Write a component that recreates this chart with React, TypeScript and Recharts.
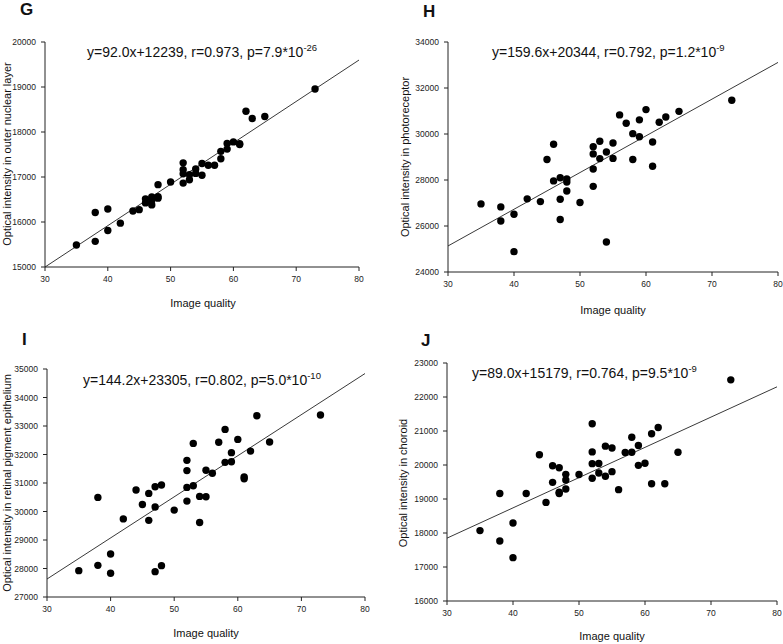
import React from "react";
import { ScatterChart, Scatter, XAxis, YAxis, ReferenceLine } from "recharts";

// ---------- data ----------
const xTicks = [30, 40, 50, 60, 70, 80];

const gX = [35, 38, 38, 40, 40, 42, 44, 45, 46, 46, 47, 47, 47, 48, 48, 48, 50, 52, 52, 52, 52, 53, 53, 54, 54, 55, 55, 56, 57, 58, 58, 59, 59, 60, 61, 61, 62, 63, 65, 73];
const gY = [15490, 16210, 15570, 16290, 15810, 15975, 16245, 16275, 16515, 16425, 16555, 16480, 16380, 16830, 16560, 16530, 16890, 17315, 17160, 17070, 16865, 17050, 16940, 17180, 17080, 17300, 17040, 17260, 17260, 17570, 17405, 17745, 17620, 17780, 17740, 17720, 18460, 18300, 18345, 18955];
const gTicks = [15000, 16000, 17000, 18000, 19000, 20000];
const gFit = { slope: 92.0, intercept: 12239 };

const hX = [35, 38, 38, 40, 40, 42, 44, 45, 46, 46, 47, 47, 47, 48, 48, 48, 50, 52, 52, 52, 52, 53, 53, 54, 54, 55, 55, 56, 57, 58, 58, 59, 59, 60, 61, 61, 62, 63, 65, 73];
const hY = [26960, 26830, 26220, 26510, 24885, 27180, 27060, 28890, 29555, 27960, 28095, 27165, 26280, 28045, 27915, 27525, 27020, 29450, 29135, 28480, 27725, 29685, 28930, 29215, 25305, 29610, 28940, 30830, 30465, 30015, 28890, 30615, 29880, 31060, 29655, 28595, 30510, 30740, 30985, 31465];
const hTicks = [24000, 26000, 28000, 30000, 32000, 34000];
const hFit = { slope: 159.6, intercept: 20344 };

const iX = [35, 38, 38, 40, 40, 42, 44, 45, 46, 46, 47, 47, 47, 48, 48, 50, 52, 52, 52, 52, 53, 53, 54, 54, 55, 55, 56, 57, 58, 58, 59, 59, 60, 61, 61, 62, 63, 65, 73];
const iY = [27925, 30495, 28110, 28510, 27835, 29740, 30755, 30245, 30635, 29690, 30870, 30160, 27890, 30930, 28100, 30050, 31795, 31435, 30845, 30365, 32390, 30905, 30530, 29615, 31445, 30520, 31340, 32430, 32880, 31725, 32065, 31745, 32530, 31210, 31150, 32120, 33360, 32440, 33385];
const iTicks = [27000, 28000, 29000, 30000, 31000, 32000, 33000, 34000, 35000];
const iFit = { slope: 144.2, intercept: 23305 };

const jX = [35, 38, 38, 40, 40, 42, 44, 45, 46, 46, 47, 47, 47, 48, 48, 48, 50, 52, 52, 52, 52, 53, 53, 54, 54, 55, 55, 56, 57, 58, 58, 59, 59, 60, 61, 61, 62, 63, 65, 73];
const jY = [18070, 19160, 17765, 18295, 17275, 19160, 20300, 18900, 19980, 19490, 19920, 19200, 19160, 19725, 19560, 19295, 19720, 21215, 20385, 20040, 19610, 20045, 19765, 20555, 19670, 20500, 19805, 19275, 20370, 20815, 20375, 20575, 19990, 20050, 20920, 19450, 21105, 19450, 20375, 22505];
const jTicks = [16000, 17000, 18000, 19000, 20000, 21000, 22000, 23000];
const jFit = { slope: 89.0, intercept: 15179 };

const xLabel = "Image quality";

// ---------- helpers ----------
const FONT = "'Liberation Sans', Arial, sans-serif";
const zip = (xs: number[], ys: number[]) => xs.map((x, k) => ({ x, y: ys[k] }));

const Dot = (p: any) => <circle cx={p.cx} cy={p.cy} r={3.7} fill="#000" />;

type PanelProps = {
  left: number; top: number; width: number; height: number;
  yAxisWidth: number; mTop: number; mRight: number; xAxisHeight: number;
  xs: number[]; ys: number[]; yTicks: number[];
  fit: { slope: number; intercept: number };
};

function Panel(p: PanelProps) {
  const data = zip(p.xs, p.ys);
  const x0 = xTicks[0];
  const x1 = xTicks[xTicks.length - 1];
  const tickStyle = { fontSize: 8.5, fill: "#222", fontFamily: FONT };
  return (
    <div style={{ position: "absolute", left: p.left, top: p.top }}>
      <ScatterChart
        width={p.width}
        height={p.height}
        margin={{ top: p.mTop, right: p.mRight, left: 0, bottom: 0 }}
      >
        <XAxis
          type="number"
          dataKey="x"
          domain={[x0, x1]}
          ticks={xTicks}
          height={p.xAxisHeight}
          tick={tickStyle}
          tickSize={4}
          tickMargin={5}
          stroke="#222"
          allowDataOverflow
        />
        <YAxis
          type="number"
          dataKey="y"
          domain={[p.yTicks[0], p.yTicks[p.yTicks.length - 1]]}
          ticks={p.yTicks}
          width={p.yAxisWidth}
          tick={tickStyle}
          tickSize={4}
          tickMargin={5}
          stroke="#222"
          allowDataOverflow
          interval={0}
        />
        <ReferenceLine
          segment={[
            { x: x0, y: p.fit.slope * x0 + p.fit.intercept },
            { x: x1, y: p.fit.slope * x1 + p.fit.intercept },
          ]}
          stroke="#222"
          strokeWidth={0.9}
          ifOverflow="visible"
        />
        <Scatter data={data} shape={Dot} isAnimationActive={false} />
      </ScatterChart>
    </div>
  );
}

type TextSpec = {
  letter: string; lx: number; ly: number;
  title: string; sup: string; tx: number; ty: number;
  xlx: number; xly: number;
  ylabel: string; ylx: number; yly: number;
};

const texts: TextSpec[] = [
  { letter: "G", lx: 20, ly: 15, title: "y=92.0x+12239, r=0.973, p=7.9*10", sup: "-26", tx: 87, ty: 57, xlx: 203, xly: 307, ylabel: "Optical intensity in outer nuclear layer", ylx: 11, yly: 154 },
  { letter: "H", lx: 423, ly: 17, title: "y=159.6x+20344, r=0.792, p=1.2*10", sup: "-9", tx: 492, ty: 57, xlx: 613, xly: 314, ylabel: "Optical intensity in photoreceptor", ylx: 409, yly: 157 },
  { letter: "I", lx: 22, ly: 345, title: "y=144.2x+23305, r=0.802, p=5.0*10", sup: "-10", tx: 83, ty: 385, xlx: 206, xly: 637, ylabel: "Optical intensity in retinal pigment epithelium", ylx: 11, yly: 483 },
  { letter: "J", lx: 421, ly: 346, title: "y=89.0x+15179, r=0.764, p=9.5*10", sup: "-9", tx: 472, ty: 378, xlx: 612, xly: 640, ylabel: "Optical intensity in choroid", ylx: 407, yly: 483 },
];

export default function App() {
  return (
    <div style={{ position: "absolute", left: 0, top: 0, width: 783, height: 644, background: "#fff", overflow: "hidden" }}>
      <Panel left={0} top={0} width={391} height={320} yAxisWidth={45} mTop={42} mRight={32} xAxisHeight={53} xs={gX} ys={gY} yTicks={gTicks} fit={gFit} />
      <Panel left={391} top={0} width={392} height={320} yAxisWidth={57} mTop={42} mRight={5} xAxisHeight={48} xs={hX} ys={hY} yTicks={hTicks} fit={hFit} />
      <Panel left={0} top={320} width={391} height={324} yAxisWidth={47} mTop={49} mRight={26} xAxisHeight={47} xs={iX} ys={iY} yTicks={iTicks} fit={iFit} />
      <Panel left={391} top={320} width={392} height={324} yAxisWidth={56} mTop={43} mRight={6} xAxisHeight={43} xs={jX} ys={jY} yTicks={jTicks} fit={jFit} />
      <svg width={783} height={644} style={{ position: "absolute", left: 0, top: 0, pointerEvents: "none" }}>
        {texts.map((t) => (
          <g key={t.letter} fontFamily={FONT} fill="#111">
            <text x={t.lx} y={t.ly} fontSize={17} fontWeight="bold">{t.letter}</text>
            <text x={t.tx} y={t.ty} fontSize={14}>
              {t.title}
              <tspan fontSize={9.5} dy={-6}>{t.sup}</tspan>
            </text>
            <text x={t.xlx} y={t.xly} fontSize={11} textAnchor="middle">{xLabel}</text>
            <text x={t.ylx} y={t.yly} fontSize={11} textAnchor="middle" transform={`rotate(-90 ${t.ylx} ${t.yly})`}>{t.ylabel}</text>
          </g>
        ))}
      </svg>
    </div>
  );
}
